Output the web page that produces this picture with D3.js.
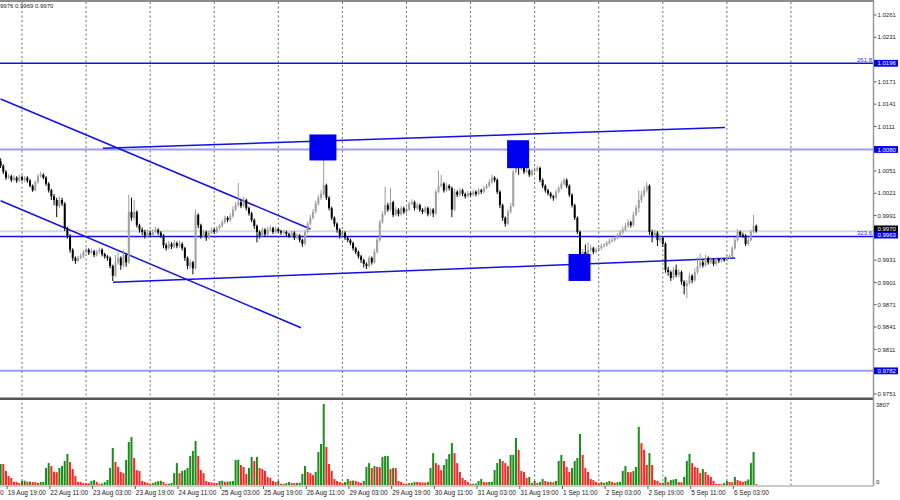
<!DOCTYPE html>
<html>
<head>
<meta charset="utf-8">
<script src="https://cdn.jsdelivr.net/npm/d3@7"></script>
<style>
  body { margin: 0; background: #fff; }
  text { font-family: "Liberation Sans", Arial, sans-serif; }
</style>
</head>
<body>
<div id="chart"></div>
<script>
// chart frame
const WIDTH = 900, HEIGHT = 500;
const PLOT_RIGHT = 873, MAIN_BOTTOM = 397, VOL_BOTTOM = 485, TIME_Y = 486;

// H1 candles, prices in points (x 0.0001)
const opens = [
10064,10058,10050,10042,10044,10039,10042,10038,10043,10039,
10042,10038,10031,10025,10036,10044,10046,10042,10034,10025,
10017,10012,10004,10012,10007,9974,9964,9945,9934,9930,
9934,9936,9942,9945,9941,9943,9938,9942,9945,9939,
9936,9934,9923,9910,9928,9934,9924,9938,9928,9996,
9988,9996,9978,9972,9969,9964,9968,9965,9969,9972,
9968,9964,9951,9947,9953,9949,9954,9950,9953,9947,
9934,9923,9928,9920,9992,9978,9964,9969,9961,9968,
9972,9969,9974,9977,9982,9988,9985,9990,9999,10005,
10009,10004,10012,10001,9994,9985,9977,9969,9964,9972,
9966,9972,9974,9969,9973,9970,9968,9969,9966,9964,
9968,9961,9964,9958,9953,9969,9980,9988,9996,10007,
10015,10020,10032,10015,10001,9988,9980,9972,9964,9968,
9961,9958,9954,9947,9942,9936,9931,9926,9923,9934,
9928,9942,9958,9982,9993,10005,9999,10009,9992,9999,
9993,10001,9996,9999,10007,10009,10001,10005,9999,9996,
10001,9993,9999,9994,10023,10031,10034,10025,10031,10028,
9999,10023,10019,10025,10020,10017,10021,10019,10023,10020,
10025,10023,10028,10031,10036,10042,10039,10023,10005,9988,
9980,9996,10004,10050,10059,10055,10062,10050,10052,10046,
10051,10052,10055,10039,10031,10025,10021,10017,10015,10023,
10028,10034,10039,10031,10019,10005,9988,9969,9928,9942,
9936,9945,9947,9942,9945,9947,9950,9951,9954,9957,
9958,9961,9964,9968,9972,9977,9982,9978,9992,10001,
10012,10019,10025,10031,9969,9964,9968,9958,9961,9953,
9918,9915,9907,9918,9911,9915,9902,9896,9900,9910,
9904,9915,9923,9928,9924,9934,9928,9931,9926,9932,
9930,9932,9931,9934,9936,9947,9958,9969,9965,9964,
9953,9958,9969,9977];
const highs = [
10068,10060,10052,10047,10046,10045,10044,10046,10045,10044,
10044,10040,10033,10038,10047,10050,10048,10044,10036,10027,
10020,10015,10016,10015,10009,9976,9966,9947,9936,9937,
9940,9945,9948,9947,9947,9945,9945,9948,9947,9941,
9938,9936,9925,9938,9942,9936,9945,9940,10019,10015,
10012,9998,9980,9975,9972,9972,9971,9973,9976,9974,
9970,9966,9954,9957,9955,9958,9956,9957,9955,9949,
9936,9932,9930,9999,9994,9980,9972,9971,9971,9975,
9974,9977,9980,9985,9991,9990,9994,10003,10009,10035,
10012,10016,10014,10003,9996,9987,9979,9971,9975,9974,
9976,9978,9976,9976,9975,9972,9972,9971,9968,9971,
9970,9967,9966,9960,9972,9983,9992,10000,10011,10019,
10025,10073,10034,10017,10003,9990,9982,9974,9971,9970,
9963,9960,9956,9949,9944,9938,9933,9928,9937,9936,
9946,9961,9985,9997,10030,10008,10028,10011,10003,10001,
10004,10003,10002,10010,10013,10011,10008,10007,10001,10004,
10003,10002,10001,10026,10052,10046,10036,10035,10033,10030,
10027,10025,10028,10027,10022,10024,10023,10026,10025,10028,
10027,10031,10034,10040,10046,10044,10041,10025,10007,9990,
9999,10008,10053,10079,10062,10066,10064,10056,10054,10054,
10056,10058,10057,10041,10033,10027,10023,10019,10026,10031,
10037,10042,10041,10033,10021,10007,9990,9971,9946,9952,
9955,9952,9949,9948,9950,9953,9954,9957,9960,9961,
9964,9967,9971,9976,9981,9986,9984,9996,10005,10025,
10024,10030,10036,10033,9972,9972,9970,9966,9963,9955,
9922,9917,9922,9925,9919,9917,9904,9904,9914,9912,
9920,9935,9940,9931,9938,9936,9935,9933,9935,9934,
9935,9934,9937,9939,9950,9962,9973,9971,9968,9966,
9962,9972,9992,9979];
const lows = [
10055,10047,10039,10040,10036,10037,10035,10036,10037,10036,
10035,10029,10023,10024,10034,10042,10040,10031,10022,10012,
10005,9989,10001,10004,9970,9960,9941,9930,9926,9928,
9932,9934,9940,9938,9939,9935,9936,9940,9936,9933,
9930,9920,9903,9908,9925,9918,9921,9922,9926,9984,
9985,9975,9968,9965,9960,9962,9962,9963,9967,9965,
9961,9947,9944,9945,9946,9947,9947,9948,9944,9930,
9919,9920,9912,9918,9974,9960,9962,9957,9959,9966,
9966,9967,9972,9975,9980,9982,9983,9988,9997,10003,
10001,10002,9998,9991,9982,9973,9955,9960,9962,9963,
9964,9970,9966,9967,9967,9965,9966,9963,9961,9962,
9958,9959,9955,9949,9951,9967,9978,9986,9994,10005,
10012,10018,10012,9998,9985,9976,9968,9960,9962,9958,
9955,9951,9944,9939,9933,9927,9921,9919,9921,9925,
9926,9940,9956,9980,9991,9996,9997,9989,9990,9990,
9991,9993,9994,9997,10005,9998,9999,9996,9993,9994,
9990,9991,9989,9992,10021,10029,10022,10023,10025,9989,
9997,10016,10017,10017,10014,10015,10016,10017,10017,10018,
10020,10021,10026,10029,10034,10036,10020,10001,9984,9976,
9978,9994,10002,10048,10046,10052,10047,10048,10043,10044,
10049,10050,10036,10028,10022,10018,10014,10011,10013,10021,
10026,10032,10028,10016,10002,9985,9966,9908,9926,9933,
9934,9942,9939,9940,9943,9945,9948,9949,9952,9955,
9956,9959,9962,9966,9970,9975,9975,9976,9990,9995,
10008,10016,10022,9965,9955,9960,9950,9955,9949,9914,
9910,9903,9905,9908,9908,9898,9885,9880,9898,9900,
9902,9912,9920,9921,9922,9925,9926,9923,9924,9927,
9928,9929,9929,9932,9934,9945,9956,9962,9961,9950,
9951,9956,9967,9968];
const closes = [
10058,10050,10042,10044,10039,10042,10038,10043,10039,10042,
10038,10031,10025,10036,10044,10046,10042,10034,10025,10017,
10012,10004,10012,10007,9974,9964,9945,9934,9930,9934,
9936,9942,9945,9941,9943,9938,9942,9945,9939,9936,
9934,9923,9910,9928,9934,9924,9938,9928,9996,9988,
9996,9978,9972,9969,9964,9968,9965,9969,9972,9968,
9964,9951,9947,9953,9949,9954,9950,9953,9947,9934,
9923,9928,9920,9992,9978,9964,9969,9961,9968,9972,
9969,9974,9977,9982,9988,9985,9990,9999,10005,10009,
10004,10012,10001,9994,9985,9977,9969,9964,9972,9966,
9972,9974,9969,9973,9970,9968,9969,9966,9964,9968,
9961,9964,9958,9953,9969,9980,9988,9996,10007,10015,
10020,10032,10015,10001,9988,9980,9972,9964,9968,9961,
9958,9954,9947,9942,9936,9931,9926,9923,9934,9928,
9942,9958,9982,9993,10005,9999,10009,9992,9999,9993,
10001,9996,9999,10007,10009,10001,10005,9999,9996,10001,
9993,9999,9994,10023,10031,10034,10025,10031,10028,9999,
10023,10019,10025,10020,10017,10021,10019,10023,10020,10025,
10023,10028,10031,10036,10042,10039,10023,10005,9988,9980,
9996,10004,10050,10059,10055,10062,10050,10052,10046,10051,
10052,10055,10039,10031,10025,10021,10017,10015,10023,10028,
10034,10039,10031,10019,10005,9988,9969,9928,9942,9936,
9945,9947,9942,9945,9947,9950,9951,9954,9957,9958,
9961,9964,9968,9972,9977,9982,9978,9992,10001,10012,
10019,10025,10031,9969,9964,9968,9958,9961,9953,9918,
9915,9907,9918,9911,9915,9902,9896,9900,9910,9904,
9915,9923,9928,9924,9934,9928,9931,9926,9932,9930,
9932,9931,9934,9936,9947,9958,9969,9965,9964,9953,
9958,9969,9977,9970];
const volumes = [
990,985,660,420,330,150,140,95,190,200,
150,160,140,130,100,140,150,800,1030,890,
620,600,800,900,1130,1460,1080,750,420,150,
140,100,90,80,190,230,150,60,70,140,
240,800,1740,1080,850,610,560,1180,2020,2260,
1270,700,660,190,140,100,60,90,140,180,
200,140,50,60,100,560,1030,560,660,700,
800,1360,1600,2070,1360,700,560,190,140,120,
100,90,190,200,150,160,170,190,1180,1190,
940,850,520,800,1320,1130,1320,800,750,660,
380,330,190,140,190,60,50,90,140,100,
90,100,110,520,890,610,560,470,610,1550,
1930,3807,1790,990,660,280,190,140,100,140,
280,200,210,190,140,100,190,850,1030,800,
890,850,840,1320,1360,1370,750,800,790,190,
140,60,50,90,100,150,140,130,120,110,
140,800,1500,1030,940,700,940,1220,1460,1970,
1500,1030,610,330,230,140,50,60,70,190,
280,140,130,140,150,700,1030,1220,1130,1030,
890,1410,1420,2210,1650,660,610,330,380,100,
190,100,140,280,190,140,150,130,190,1130,
1410,1130,850,610,800,1130,1270,2400,1410,800,
610,280,230,140,100,140,100,140,190,140,
100,130,150,660,890,610,600,660,850,2730,
1970,1650,940,1500,940,230,190,100,110,380,
140,230,260,280,140,130,380,1130,1460,1030,
850,800,560,750,610,470,380,190,60,50,
40,90,190,140,130,380,230,190,140,190,
260,1030,1550,40];

// axis labels (the ones hidden behind the level boxes are left out)
const priceTicks = [0.9751,0.9811,0.9841,0.9871,0.9901,0.9931,0.9991,
  1.0021,1.0051,1.0111,1.0141,1.0171,1.0231,1.0261];
const timeBars = [3,19,35,51,67,83,99,115,131,147,163,179,195,211,227,243,259,275];
const timeLabels = ["19 Aug 19:00","22 Aug 11:00","23 Aug 03:00","23 Aug 19:00",
  "24 Aug 11:00","25 Aug 03:00","25 Aug 19:00","26 Aug 11:00","29 Aug 03:00","29 Aug 19:00",
  "30 Aug 11:00","31 Aug 03:00","31 Aug 19:00","1 Sep 11:00","2 Sep 03:00","2 Sep 19:00",
  "5 Sep 11:00","6 Sep 03:00"];
const gridBars = [8,32,56,80,104,128,152,176,200,224,248,272,296];

// drawn objects
const levelPrices = [1.0196, 1.0080, 0.9963, 0.9782];
const levelNames = ["1.0196", "1.0080", "0.9963", "0.9782"];
const fibPrices = [1.0196, 0.9963];
const fibNames = ["261.8", "323.6"];
const bidPrice = 0.9970;
const volMaxLabel = "3807";
// [bar0, price0, bar1, price1]
const trendLines = [
  [0, 1.0148, 116, 0.9973],
  [0, 1.0011, 112.5, 0.9840],
  [38.3, 1.00816, 271.3, 1.01096],
  [42.1, 0.99012, 275.1, 0.99339]
];
const markBars = [120.7, 193.8, 216.8];
const markPrices = [1.00827, 1.00736, 0.99212];

const DARK_BLUE = "#1010e8", LIGHT_BLUE = "#9a9aff", MARK_BLUE = "#0000f0";

let svg = d3.select("#chart").append("svg")
  .attr("width", WIDTH).attr("height", HEIGHT);
svg.append("rect").attr("width", WIDTH).attr("height", HEIGHT).attr("fill", "#fff");

let x = d3.scaleLinear().domain([0, 327]).range([0.64, 0.64 + 2.67 * 327]);
let y = d3.scaleLinear().domain([0.97468, 1.02812]).range([MAIN_BOTTOM, 0]);
let yVol = d3.scaleLinear().domain([0, 3807]).range([VOL_BOTTOM, 404]);

svg.append("clipPath").attr("id", "plot")
  .append("rect").attr("x", 0).attr("y", 0).attr("width", PLOT_RIGHT).attr("height", MAIN_BOTTOM);
let main = svg.append("g").attr("clip-path", "url(#plot)");

// day separators (dashed)
svg.append("g").selectAll("line").data(gridBars).enter().append("line")
  .attr("x1", d => x(d)).attr("x2", d => x(d))
  .attr("y1", 2).attr("y2", TIME_Y)
  .attr("stroke", "#444").attr("stroke-width", 0.8)
  .attr("stroke-dasharray", "2,2.5");

// bid line
main.append("line")
  .attr("x1", 0).attr("x2", PLOT_RIGHT)
  .attr("y1", y(bidPrice)).attr("y2", y(bidPrice))
  .attr("stroke", "#d8d8d8").attr("stroke-width", 2);

// horizontal levels
main.selectAll("line.level").data(levelPrices).enter().append("line")
  .attr("class", "level")
  .attr("x1", 0).attr("x2", PLOT_RIGHT)
  .attr("y1", d => y(d)).attr("y2", d => y(d))
  .attr("stroke", (d, i) => (i % 2 === 0) ? DARK_BLUE : LIGHT_BLUE)
  .attr("stroke-width", (d, i) => (i % 2 === 0) ? 1.5 : 2);

// trend lines
main.selectAll("line.trend").data(trendLines).enter().append("line")
  .attr("class", "trend")
  .attr("x1", d => x(d[0])).attr("y1", d => y(d[1]))
  .attr("x2", d => x(d[2])).attr("y2", d => y(d[3]))
  .attr("stroke", DARK_BLUE).attr("stroke-width", 1.5);

// candles
let idx = d3.range(closes.length);
let candles = main.append("g");
candles.selectAll("line").data(idx).enter().append("line")
  .attr("x1", i => x(i)).attr("x2", i => x(i))
  .attr("y1", i => y(highs[i] / 1e4)).attr("y2", i => y(lows[i] / 1e4))
  .attr("stroke", i => closes[i] >= opens[i] ? "#9a9a9a" : "#000")
  .attr("stroke-width", 1);
candles.selectAll("rect").data(idx).enter().append("rect")
  .attr("x", i => x(i) - 1).attr("width", 2)
  .attr("y", i => y(Math.max(opens[i], closes[i]) / 1e4))
  .attr("height", i => Math.max(1, Math.abs(y(opens[i] / 1e4) - y(closes[i] / 1e4))))
  .attr("fill", i => closes[i] >= opens[i] ? "#a0a0a0" : "#000");

// blue square marks
const markSize = [[27, 26], [22, 28], [22, 27]];
main.selectAll("rect.mark").data(markBars).enter().append("rect")
  .attr("class", "mark")
  .attr("x", (d, i) => x(d) - markSize[i][0] / 2)
  .attr("y", (d, i) => y(markPrices[i]) - markSize[i][1] / 2)
  .attr("width", (d, i) => markSize[i][0])
  .attr("height", (d, i) => markSize[i][1])
  .attr("fill", MARK_BLUE);

// fib level captions
svg.selectAll("text.fib").data(fibPrices).enter().append("text")
  .attr("class", "fib")
  .attr("x", PLOT_RIGHT - 1).attr("y", d => y(d) - 1.5)
  .attr("text-anchor", "end")
  .style("font-size", "6px").attr("fill", "#3030ff")
  .text((d, i) => fibNames[i]);

// volumes: green when volume rises, red when it falls
svg.append("g").selectAll("rect").data(idx).enter().append("rect")
  .attr("x", i => x(i) - 1).attr("width", 2)
  .attr("y", i => yVol(volumes[i]))
  .attr("height", i => VOL_BOTTOM - yVol(volumes[i]))
  .attr("fill", i => (i === 0 || volumes[i] > volumes[i - 1]) ? "#1a8c1a" : "#ff2323");

// frame
svg.append("line").attr("x1", 0).attr("x2", PLOT_RIGHT).attr("y1", 1).attr("y2", 1)
  .attr("stroke", "#666").attr("stroke-width", 1.5);
svg.append("rect").attr("x", 0).attr("y", 397.5).attr("width", PLOT_RIGHT).attr("height", 2.5)
  .attr("fill", "#555");
svg.append("line").attr("x1", 0).attr("x2", PLOT_RIGHT).attr("y1", TIME_Y).attr("y2", TIME_Y)
  .attr("stroke", "#999").attr("stroke-width", 1);
svg.append("line").attr("x1", PLOT_RIGHT + 0.5).attr("x2", PLOT_RIGHT + 0.5).attr("y1", 0).attr("y2", TIME_Y)
  .attr("stroke", "#999").attr("stroke-width", 1.5);

// price axis
let yAxis = svg.append("g");
yAxis.selectAll("line").data(priceTicks).enter().append("line")
  .attr("x1", PLOT_RIGHT + 1).attr("x2", PLOT_RIGHT + 3.5)
  .attr("y1", d => y(d)).attr("y2", d => y(d))
  .attr("stroke", "#333").attr("stroke-width", 0.8);
yAxis.selectAll("text").data(priceTicks).enter().append("text")
  .attr("x", PLOT_RIGHT + 4.5).attr("y", d => y(d) + 2.2)
  .style("font-size", "6px").attr("fill", "#222")
  .text(d => d3.format(".4f")(d));

// highlighted price boxes
function priceBox(py, label, bg) {
  svg.append("rect").attr("x", PLOT_RIGHT + 1).attr("y", py - 3.4)
    .attr("width", 24).attr("height", 6.8).attr("fill", bg);
  svg.append("text").attr("x", PLOT_RIGHT + 4.5).attr("y", py + 2.1)
    .style("font-size", "6px").attr("fill", "#fff").text(label);
}
priceBox(y(bidPrice) - 2.3, d3.format(".4f")(bidPrice), "#000");
levelPrices.forEach((p, i) => priceBox(y(p) - (i === 2 ? 1.3 : 0), levelNames[i], MARK_BLUE));

// volume axis
svg.append("text").attr("x", PLOT_RIGHT + 3).attr("y", 406.5)
  .style("font-size", "6px").attr("fill", "#222").text(volMaxLabel);
svg.append("text").attr("x", PLOT_RIGHT + 3).attr("y", 483.5)
  .style("font-size", "6px").attr("fill", "#222").text("0");

// time axis
let xAxis = svg.append("g");
xAxis.selectAll("line").data(timeBars).enter().append("line")
  .attr("x1", d => x(d) - 1.5).attr("x2", d => x(d) - 1.5)
  .attr("y1", TIME_Y).attr("y2", TIME_Y + 3)
  .attr("stroke", "#333").attr("stroke-width", 0.8);
xAxis.selectAll("text").data(timeBars).enter().append("text")
  .attr("x", d => x(d) - 1).attr("y", 495)
  .style("font-size", "6.5px").attr("fill", "#222")
  .text((d, i) => timeLabels[i]);
// tail of the previous label, cut by the window edge
svg.append("text").attr("x", 0).attr("y", 495)
  .style("font-size", "6.5px").attr("fill", "#222").text("0");

// OHLC caption, left part clipped by the window
svg.append("text").attr("x", 0).attr("y", 8)
  .style("font-size", "6px").attr("fill", "#222")
  .text("9976 0.9969 0.9970");
</script>
</body>
</html>
